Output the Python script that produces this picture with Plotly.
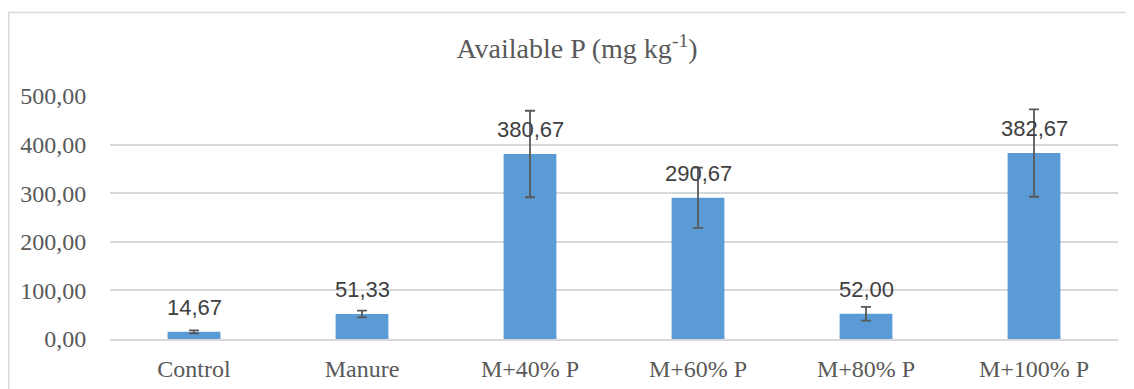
import plotly.graph_objects as go

categories = ["Control", "Manure", "M+40% P", "M+60% P", "M+80% P", "M+100% P"]
values = [14.67, 51.33, 380.67, 290.67, 52.00, 382.67]
errors = [3, 7, 89, 62, 14, 90]
y_ticks = [0, 100, 200, 300, 400, 500]

# page body has an 8px margin; size the figure so it fits the 1134x389 window
OFF = 8
W, H = 1134 - OFF, 389 - OFF
L, R, T, B = 110 - OFF, 16, 96 - OFF, 50
pw, ph = W - L - R, H - T - B

fig = go.Figure()
fig.add_trace(go.Bar(
    x=categories, y=values,
    marker=dict(color="#5b9bd5", line=dict(width=0)),
    error_y=dict(type="data", array=errors, visible=True,
                 color="#595959", thickness=1.8, width=5),
    hoverinfo="skip",
))

for c, v in zip(categories, values):
    fig.add_annotation(
        x=c, y=v, xref="x", yref="y",
        text=f"{v:.2f}".replace(".", ","),
        showarrow=False, yanchor="bottom", yshift=10,
        font=dict(family="Liberation Sans", size=22, color="#404040"),
    )

def px_to_paper_x(px):
    return (px - L) / pw

def px_to_paper_y(py):
    return (H - B - py) / ph

# outer chart frame (clipped on right and bottom, like the reference)
fig.add_shape(type="rect", xref="paper", yref="paper",
              x0=px_to_paper_x(0.75), x1=px_to_paper_x(1160),
              y0=px_to_paper_y(420), y1=px_to_paper_y(4.5),
              line=dict(color="#d9d9d9", width=1.5), layer="below")

fig.update_layout(
    width=W, height=H,
    margin=dict(l=L, r=R, t=T, b=B, pad=0, autoexpand=False),
    paper_bgcolor="white", plot_bgcolor="white",
    separators=", ",
    showlegend=False,
    bargap=0.686,
    title=dict(
        text="Available P (mg kg<sup>-1</sup>)",
        x=(577 - OFF) / W, xref="container", xanchor="center",
        y=1 - (48.5 - OFF) / H, yref="container", yanchor="middle",
        font=dict(family="Liberation Serif", size=28, color="#595959"),
        automargin=False,
    ),
    xaxis=dict(
        automargin=False,
        showgrid=False, showline=True, linecolor="#d9d9d9", linewidth=1.5,
        ticks="outside", ticklen=7, tickcolor="rgba(0,0,0,0)",
        tickfont=dict(family="Liberation Serif", size=24, color="#595959"),
    ),
    yaxis=dict(
        automargin=False,
        range=[0, 500], tickvals=y_ticks, tickformat=".2f",
        showgrid=True, gridcolor="#d9d9d9", gridwidth=1.5,
        zeroline=False, showline=False,
        ticks="outside", ticklen=18, tickcolor="rgba(0,0,0,0)",
        tickfont=dict(family="Liberation Serif", size=24, color="#595959"),
    ),
)

fig.write_html("out.html")
